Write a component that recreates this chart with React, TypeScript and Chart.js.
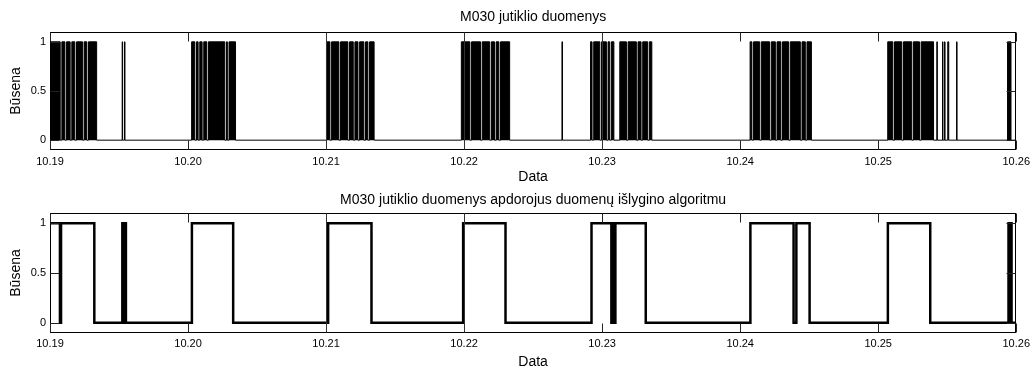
import React, { useEffect, useRef } from "react";
import { Chart, registerables } from "chart.js";

Chart.register(...registerables);

// ---- data ----
const xMin = 19; // day of month (10.19)
const xMax = 26; // 10.26
const yMin = -0.1;
const yMax = 1.1;
const xTickValues = [19, 20, 21, 22, 23, 24, 25, 26];
const xTickLabels = ["10.19", "10.20", "10.21", "10.22", "10.23", "10.24", "10.25", "10.26"];
const yTickValues = [0, 0.5, 1];
const yTickLabels = ["0", "0.5", "1"];

const topTitle = "M030 jutiklio duomenys";
const bottomTitle = "M030 jutiklio duomenys apdorojus duomenų išlygino algoritmu";
const xTitle = "Data";
const yTitle = "Būsena";

// raw sensor: intervals (in days) where the sensor reads 1 (dense switching)
const rawOnIntervals: [number, number][] = [
  [19.0, 19.074], [19.086, 19.108], [19.12, 19.146], [19.158, 19.18], [19.192, 19.235], [19.247, 19.267], [19.279, 19.338],
  [19.523, 19.526], [19.54, 19.543],
  [20.026, 20.049], [20.061, 20.073], [20.085, 20.102], [20.114, 20.136], [20.148, 20.266], [20.278, 20.285], [20.297, 20.344],
  [21.003, 21.028], [21.04, 21.093], [21.105, 21.158], [21.17, 21.197], [21.209, 21.231], [21.243, 21.274], [21.286, 21.303], [21.315, 21.348],
  [21.98, 22.042], [22.054, 22.119], [22.131, 22.186], [22.198, 22.22], [22.232, 22.252], [22.264, 22.33],
  [22.709, 22.713],
  [22.916, 22.927], [22.939, 22.983], [22.995, 23.031], [23.043, 23.055], [23.067, 23.085],
  [23.128, 23.176], [23.188, 23.248], [23.26, 23.282], [23.294, 23.33], [23.342, 23.36],
  [24.072, 24.085], [24.097, 24.141], [24.153, 24.213], [24.225, 24.255], [24.267, 24.295], [24.307, 24.351], [24.363, 24.436], [24.448, 24.472], [24.484, 24.516],
  [25.069, 25.106], [25.118, 25.171], [25.183, 25.243], [25.255, 25.299], [25.311, 25.401],
  [25.425, 25.428], [25.466, 25.469], [25.481, 25.484], [25.504, 25.511], [25.568, 25.571],
  [25.937, 25.962],
];

// smoothed signal: state changes (time in days, new state)
const smoothTimes = [
  19.0, 19.072, 19.08, 19.321, 19.524, 19.535, 19.539, 19.55, 20.028, 20.327,
  21.015, 21.329, 21.993, 22.3, 22.923, 23.067, 23.078, 23.083, 23.096, 23.316,
  24.074, 24.387, 24.407, 24.503, 25.07, 25.377, 25.944, 25.952, 25.957, 25.966, 26.0,
];
const smoothStates = [
  1, 0, 1, 0, 1, 0, 1, 0, 1, 0,
  1, 0, 1, 0, 1, 0, 1, 0, 1, 0,
  1, 0, 1, 0, 1, 0, 1, 0, 1, 0, 0,
];

// ---- helpers ----
const FONT = "'Liberation Sans', Arial, Helvetica, sans-serif";

function rawPoints() {
  const pts: { x: number; y: number }[] = [{ x: xMin, y: 0 }];
  rawOnIntervals.forEach(([a, b]) => {
    pts.push({ x: a, y: 1 });
    pts.push({ x: b, y: 0 });
  });
  pts.push({ x: xMax, y: 0 });
  return pts;
}

function smoothPoints() {
  return smoothTimes.map((t, i) => ({ x: t, y: smoothStates[i] }));
}

const matlabAxes = {
  id: "matlabAxes",
  afterDraw(chart: any, _args: any, opts: any) {
    const { ctx } = chart;
    const xs = chart.scales.x;
    const ys = chart.scales.y;
    const L = Math.round(xs.getPixelForValue(xMin)) + 0.5;
    const R = Math.round(xs.getPixelForValue(xMax)) - 0.5;
    const T = Math.round(ys.getPixelForValue(yMax)) + 0.5;
    const B = Math.round(ys.getPixelForValue(yMin)) - 0.5;
    const tl = 9;
    ctx.save();
    ctx.lineWidth = 1;
    ctx.strokeStyle = "#000";
    ctx.strokeRect(L, T, R - L, B - T);
    const full: number[] = opts.fullTicks || [];
    xTickValues.forEach((v) => {
      const px = Math.round(xs.getPixelForValue(v)) + 0.5;
      ctx.beginPath();
      if (full.includes(v)) {
        ctx.strokeStyle = "#333";
        ctx.moveTo(px, T);
        ctx.lineTo(px, B);
      } else {
        ctx.strokeStyle = "#222";
        ctx.moveTo(px, T);
        ctx.lineTo(px, T + tl);
        ctx.moveTo(px, B);
        ctx.lineTo(px, B - tl);
      }
      ctx.stroke();
    });
    ctx.strokeStyle = "#222";
    yTickValues.forEach((v) => {
      const py = Math.round(ys.getPixelForValue(v)) + 0.5;
      ctx.beginPath();
      ctx.moveTo(L, py);
      ctx.lineTo(L + tl, py);
      ctx.moveTo(R, py);
      ctx.lineTo(R - tl, py);
      ctx.stroke();
    });
    ctx.restore();
  },
};

function makeConfig(opts: {
  dataset: any;
  title: string;
  titlePad: { top: number; bottom: number };
  xAxisHeight: number;
  xTitlePadBottom: number;
  fullTicks: number[];
}): any {
  return {
    type: "line",
    data: { datasets: [opts.dataset] },
    plugins: [matlabAxes],
    options: {
      animation: false,
      responsive: false,
      maintainAspectRatio: false,
      events: [],
      layout: { padding: { left: 0, right: 18, top: 0, bottom: 0 } },
      plugins: {
        legend: { display: false },
        tooltip: { enabled: false },
        title: {
          display: true,
          fullSize: false,
          text: opts.title,
          color: "#000",
          font: { family: FONT, size: 14, weight: "normal" },
          padding: opts.titlePad,
        },
        matlabAxes: { fullTicks: opts.fullTicks },
      },
      scales: {
        x: {
          type: "linear",
          min: xMin,
          max: xMax,
          afterBuildTicks: (s: any) => {
            s.ticks = xTickValues.map((v) => ({ value: v }));
          },
          afterFit: (s: any) => {
            s.height = opts.xAxisHeight;
          },
          ticks: {
            autoSkip: false,
            maxRotation: 0,
            minRotation: 0,
            padding: 5,
            color: "#000",
            font: { family: FONT, size: 11 },
            callback: (v: number) => {
              const i = xTickValues.indexOf(v);
              return i >= 0 ? xTickLabels[i] : "";
            },
          },
          grid: { display: false, drawTicks: false },
          border: { display: false },
          title: {
            display: true,
            text: xTitle,
            color: "#000",
            font: { family: FONT, size: 14 },
            padding: { top: 0, bottom: opts.xTitlePadBottom },
          },
        },
        y: {
          type: "linear",
          min: yMin,
          max: yMax,
          afterBuildTicks: (s: any) => {
            s.ticks = yTickValues.map((v) => ({ value: v }));
          },
          afterFit: (s: any) => {
            s.width = 50;
          },
          ticks: {
            padding: 4,
            color: "#000",
            font: { family: FONT, size: 11 },
            callback: (v: number) => {
              const i = yTickValues.indexOf(v);
              return i >= 0 ? yTickLabels[i] : "";
            },
          },
          grid: { display: false, drawTicks: false },
          border: { display: false },
          title: {
            display: true,
            text: yTitle,
            color: "#000",
            font: { family: FONT, size: 14 },
            padding: { top: 7.6, bottom: 0 },
          },
        },
      },
    },
  };
}

export default function App() {
  const ref1 = useRef<HTMLCanvasElement>(null);
  const ref2 = useRef<HTMLCanvasElement>(null);

  useEffect(() => {
    const c1 = new Chart(
      ref1.current as HTMLCanvasElement,
      makeConfig({
        dataset: {
          data: rawPoints(),
          stepped: true,
          borderColor: "#000",
          backgroundColor: "#000",
          borderWidth: 1,
          fill: "origin",
          pointRadius: 0,
          tension: 0,
        },
        title: topTitle,
        titlePad: { top: 8.3, bottom: 6.9 },
        xAxisHeight: 40,
        xTitlePadBottom: 4.6,
        fullTicks: [21, 22, 23],
      })
    );
    const c2 = new Chart(
      ref2.current as HTMLCanvasElement,
      makeConfig({
        dataset: {
          data: smoothPoints(),
          stepped: true,
          borderColor: "#000",
          borderWidth: 2.5,
          borderJoinStyle: "miter",
          fill: false,
          pointRadius: 0,
          tension: 0,
        },
        title: bottomTitle,
        titlePad: { top: 11.6, bottom: 4.9 },
        xAxisHeight: 42.3,
        xTitlePadBottom: 4.9,
        fullTicks: [21, 22],
      })
    );
    return () => {
      c1.destroy();
      c2.destroy();
    };
  }, []);

  return (
    <div
      style={{
        position: "absolute",
        left: 0,
        top: 0,
        width: 1035,
        height: 367,
        overflow: "hidden",
        background: "#fff",
      }}
    >
      <canvas
        ref={ref1}
        width={1035}
        height={190}
        style={{ position: "absolute", left: 0, top: 0, width: 1035, height: 190 }}
      />
      <canvas
        ref={ref2}
        width={1035}
        height={195}
        style={{ position: "absolute", left: 0, top: 180, width: 1035, height: 195 }}
      />
    </div>
  );
}
